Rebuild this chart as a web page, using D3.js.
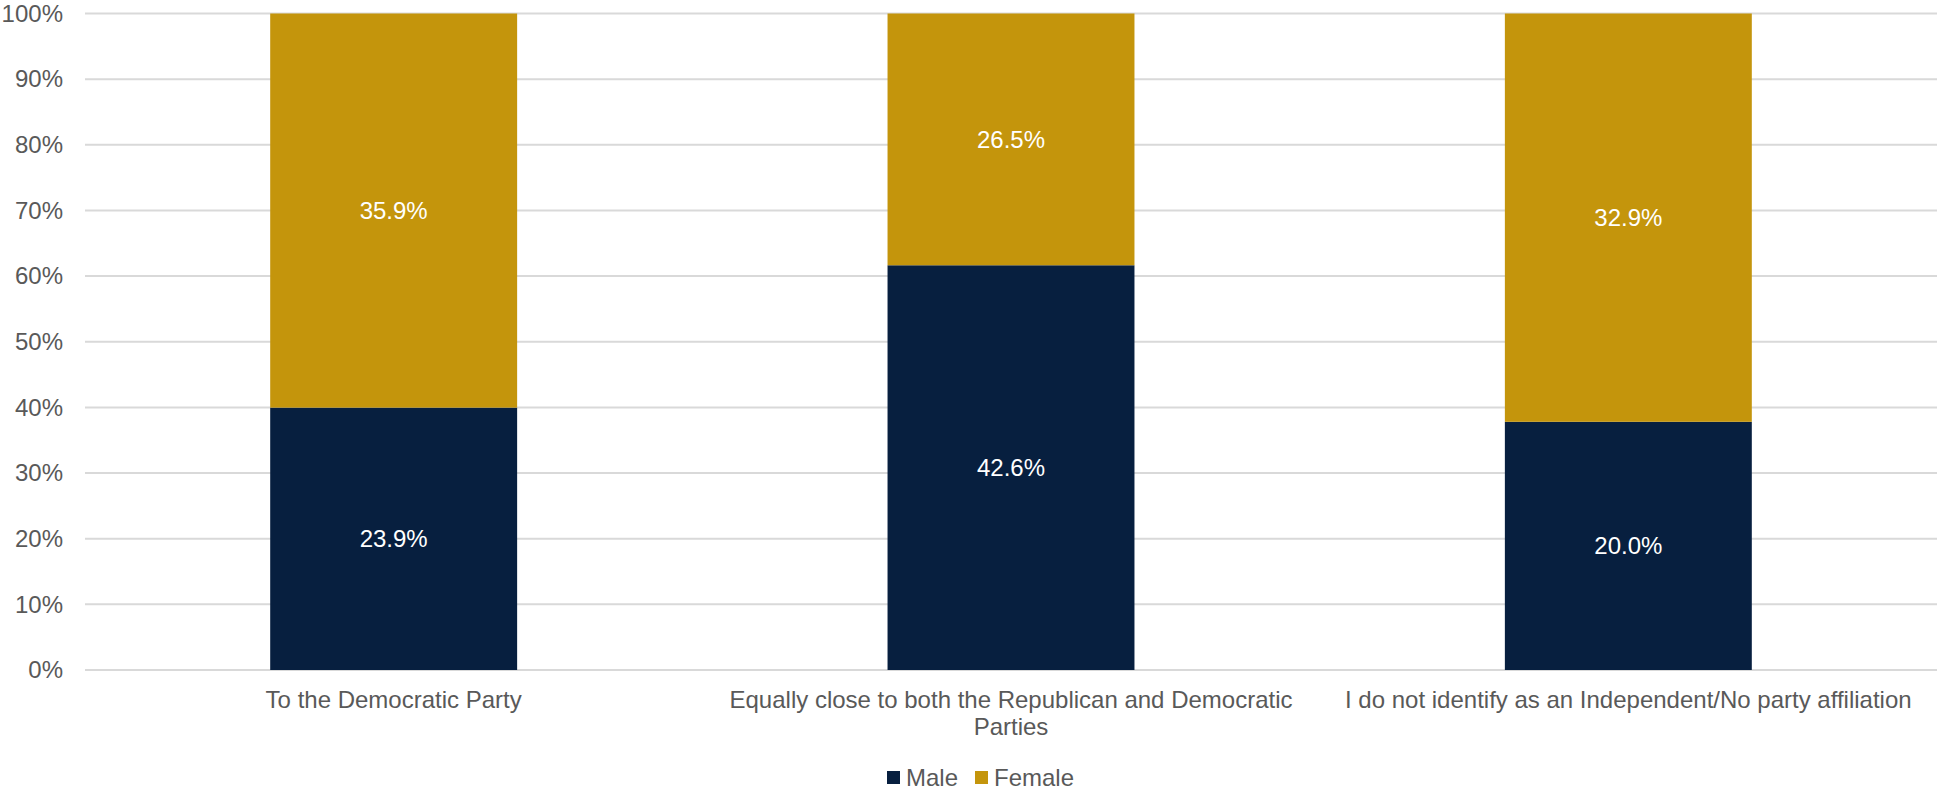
<!DOCTYPE html>
<html><head><meta charset="utf-8">
<script src="https://cdn.jsdelivr.net/npm/d3@7"></script>
<style>
html,body{margin:0;padding:0;background:#fff;}
svg{display:block;font-family:"Liberation Sans",Arial,sans-serif;}
</style></head>
<body>
<svg id="chart" width="1938" height="789"></svg>
<script>
const categories = [
  "To the Democratic Party",
  "Equally close to both the Republican and Democratic Parties",
  "I do not identify as an Independent/No party affiliation"
];
const seriesNames = ["Male", "Female"];
const maleValues = [23.9, 42.6, 20.0];
const femaleValues = [35.9, 26.5, 32.9];
const yTicks = [0,0.1,0.2,0.3,0.4,0.5,0.6,0.7,0.8,0.9,1.0];
const colors = ["#071f3f", "#c4950c"];

const svg = d3.select("#chart");
const W = 1938, H = 789;
const margin = {left: 85, right: 1, top: 13.5, bottom: 119};
const plotW = W - margin.left - margin.right;
const plotH = H - margin.top - margin.bottom;
const fs = 24;
const textColor = "#595959";

const rows = categories.map((c,i)=>({cat:c, Male:maleValues[i], Female:femaleValues[i]}));
const stacked = d3.stack().keys(seriesNames).offset(d3.stackOffsetExpand)(rows);

const x = d3.scaleBand().domain(categories).range([margin.left, margin.left+plotW]).paddingInner(0.6).paddingOuter(0.3);
const y = d3.scaleLinear().domain([0,1]).range([margin.top+plotH, margin.top]);

// gridlines
svg.append("g").selectAll("line").data(yTicks).join("line")
  .attr("x1", margin.left).attr("x2", margin.left+plotW)
  .attr("y1", d=>y(d)).attr("y2", d=>y(d))
  .attr("stroke", "#d9d9d9").attr("stroke-width", 2);

// y axis
const yAxis = d3.axisLeft(y).tickValues(yTicks).tickFormat(d3.format(".0%")).tickSize(0).tickPadding(22);
const gy = svg.append("g").attr("transform", `translate(${margin.left},0)`).call(yAxis);
gy.select(".domain").remove();
gy.selectAll("text").attr("fill", textColor).style("font-size", fs+"px").style("font-family", '"Liberation Sans",Arial,sans-serif');

// bars
const groups = svg.append("g").selectAll("g").data(stacked).join("g").attr("fill", (d,i)=>colors[i]);
groups.selectAll("rect").data(d=>d.map(p=>({p, key:d.key}))).join("rect")
  .attr("x", d=>x(d.p.data.cat))
  .attr("width", x.bandwidth())
  .attr("y", d=>y(d.p[1]))
  .attr("height", d=>y(d.p[0])-y(d.p[1]));

// labels
groups.selectAll("text").data(d=>d.map(p=>({p, key:d.key}))).join("text")
  .attr("x", d=>x(d.p.data.cat)+x.bandwidth()/2)
  .attr("y", d=>(y(d.p[0])+y(d.p[1]))/2)
  .attr("dy", "0.35em")
  .attr("text-anchor", "middle")
  .attr("fill", "#ffffff")
  .style("font-size", fs+"px")
  .text(d=>d.p.data[d.key].toFixed(1)+"%");

// x axis labels with wrapping
const xAxis = d3.axisBottom(x).tickSize(0).tickPadding(0);
const gx = svg.append("g").attr("transform", `translate(0,${margin.top+plotH})`).call(xAxis);
gx.select(".domain").remove();
gx.selectAll("text").attr("fill", textColor).style("font-size", fs+"px")
  .style("font-family", '"Liberation Sans",Arial,sans-serif')
  .attr("y", 0).attr("dy", null)
  .each(function(d){
    const t = d3.select(this);
    const words = d.split(/\s+/);
    t.text(null);
    const maxW = x.step();
    let line = [];
    let lineNo = 0;
    const y0 = 37.5;
    let tspan = t.append("tspan").attr("x", 0).attr("y", y0);
    for (const w of words) {
      line.push(w);
      tspan.text(line.join(" "));
      if (tspan.node().getComputedTextLength() > maxW && line.length > 1) {
        line.pop();
        tspan.text(line.join(" "));
        line = [w];
        lineNo++;
        tspan = t.append("tspan").attr("x", 0).attr("y", y0 + lineNo*27.5).text(w);
      }
    }
  });

// legend
const legend = svg.append("g");
const legendItems = [{name:seriesNames[0], x:887}, {name:seriesNames[1], x:975}];
legendItems.forEach((it,i)=>{
  legend.append("rect").attr("x", it.x).attr("y", 771).attr("width", 13).attr("height", 13).attr("fill", colors[i]);
  legend.append("text").attr("x", it.x+19).attr("y", 785.5).attr("fill", textColor).style("font-size", fs+"px").text(it.name);
});
</script>
</body></html>
